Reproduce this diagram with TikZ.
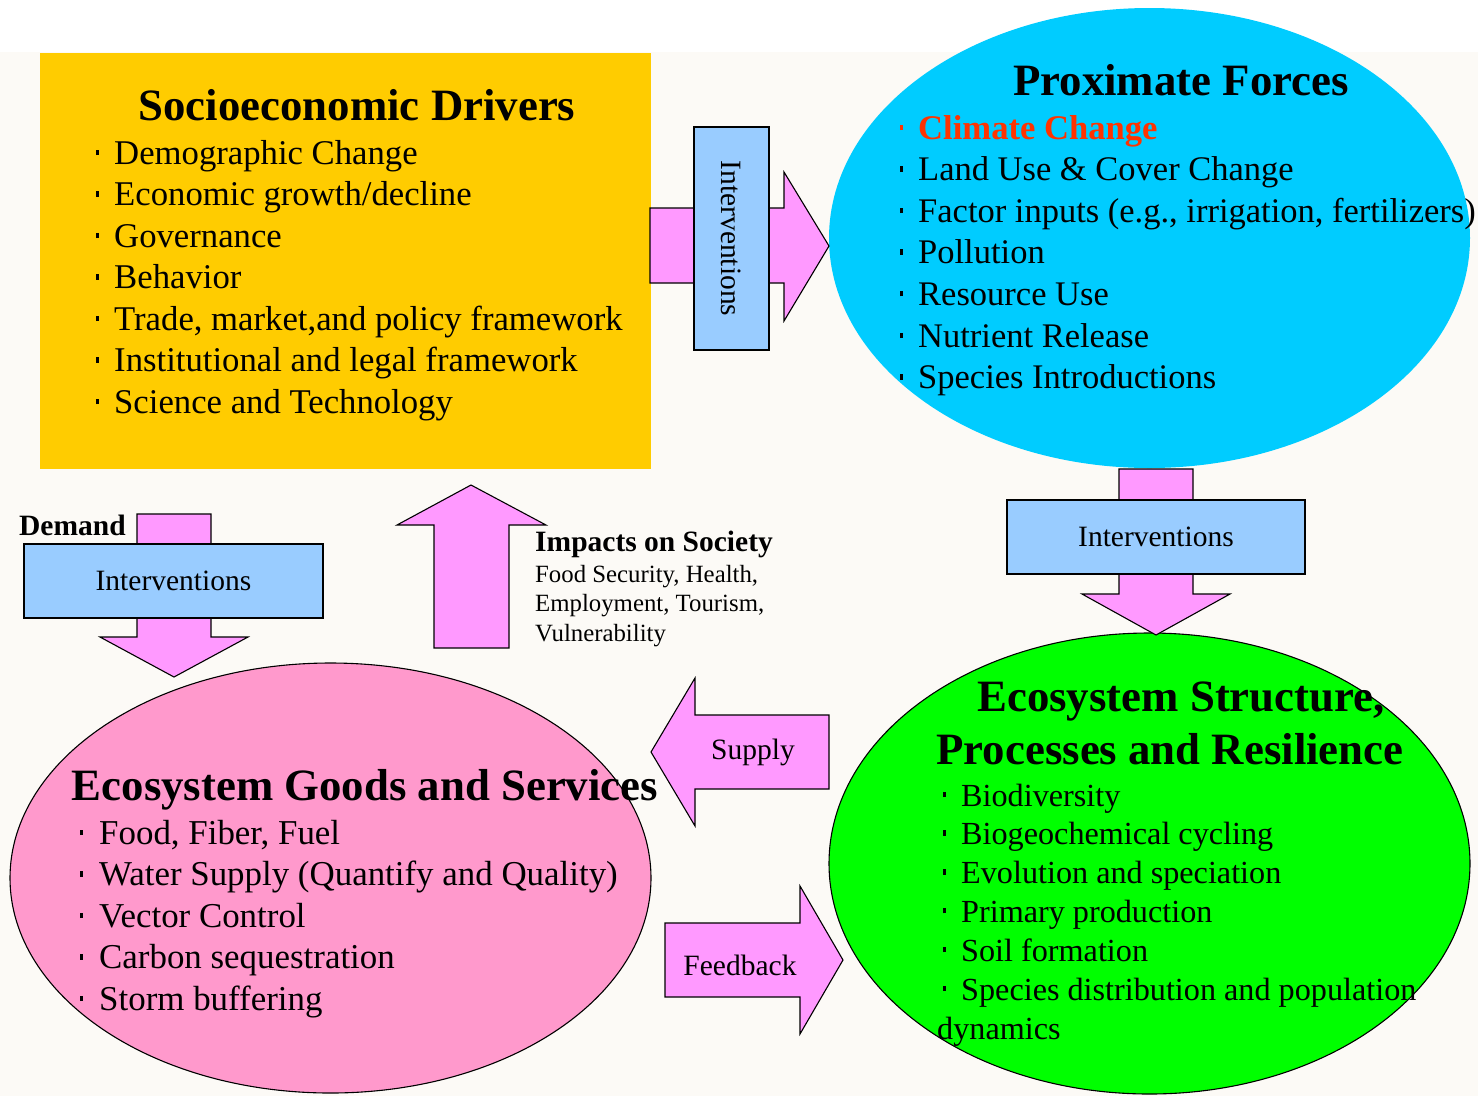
\documentclass[tikz,border=0pt]{standalone}
\usepackage{fontspec}
\setmainfont{Liberation Serif}
\usetikzlibrary{shapes.geometric}

\definecolor{bgcream}{HTML}{FCFAF6}
\definecolor{drvyellow}{HTML}{FFCC00}
\definecolor{forcecyan}{HTML}{00CCFF}
\definecolor{structgreen}{HTML}{00FF00}
\definecolor{goodspink}{HTML}{FF99CC}
\definecolor{arrowpink}{HTML}{FF99FF}
\definecolor{ivblue}{HTML}{99CCFF}
\definecolor{climred}{HTML}{FF3300}

\newcommand{\bul}{\makebox[18pt][l]{\raisebox{9pt}{\rule{2.4pt}{5.5pt}}}}

\tikzset{
  blockarrow/.style={fill=arrowpink, draw=black, line width=1.1pt, line join=miter},
  ivbox/.style={draw=black, fill=ivblue, line width=1.1pt, inner sep=0pt,
    font=\fontsize{29.5}{32}\selectfont},
  bigtitle/.style={font=\fontsize{44.8}{45}\selectfont\bfseries, inner sep=0pt, anchor=base},
  item/.style={font=\fontsize{#1}{#1}\selectfont, inner sep=0pt, anchor=base west},
  item/.default=34.7,
  smallbold/.style={font=\fontsize{29.5}{30}\selectfont\bfseries, inner sep=0pt, anchor=base west},
  smalltext/.style={font=\fontsize{24.8}{25}\selectfont, inner sep=0pt, anchor=base west},
  arrowtext/.style={font=\fontsize{29.5}{30}\selectfont, inner sep=0pt}
}

\begin{document}
\begin{tikzpicture}[x=1pt, y=-1pt]
% page and background
\fill[white] (0,0) rectangle (1478,1096);
\fill[bgcream] (0,52) rectangle (1478,1096);
\useasboundingbox (0,0) rectangle (1478,1096);

% the four blocks
\node[fill=drvyellow, minimum width=611pt, minimum height=416pt, inner sep=0pt] (drivers) at (345.5,261) {};
\node[ellipse, fill=forcecyan, minimum width=641pt, minimum height=460pt, inner sep=0pt] (forces) at (1149.5,238) {};
\node[ellipse, fill=structgreen, draw=black, line width=1.1pt, minimum width=641pt, minimum height=461pt, inner sep=0pt] (struct) at (1149.5,863.5) {};
\node[ellipse, fill=goodspink, draw=black, line width=1.1pt, minimum width=641pt, minimum height=430pt, inner sep=0pt] (goods) at (330.5,878) {};

% block arrows
\draw[blockarrow] (650,208) -- (784,208) -- (784,172) -- (829,246) -- (784,321) -- (784,283) -- (650,283) -- cycle;
\draw[blockarrow] (1119,469) -- (1193,469) -- (1193,594) -- (1230,594) -- (1156,635) -- (1082,594) -- (1119,594) -- cycle;
\draw[blockarrow] (137,514) -- (211,514) -- (211,637) -- (248,637) -- (174,677) -- (100,637) -- (137,637) -- cycle;
\draw[blockarrow] (434,648) -- (434,525) -- (397,525) -- (471,485) -- (546,525) -- (509,525) -- (509,648) -- cycle;
\draw[blockarrow] (829,715) -- (695,715) -- (695,678) -- (651,752) -- (695,826) -- (695,789) -- (829,789) -- cycle;
\draw[blockarrow] (665,923) -- (800,923) -- (800,886) -- (843,960) -- (800,1034) -- (800,997) -- (665,997) -- cycle;

% interventions
\node[ivbox, rotate=-90, minimum width=223pt, minimum height=75pt] (ivtop) at (731.5,238.5) {Interventions};
\node[ivbox, minimum width=298pt, minimum height=74pt] (ivright) at (1156,537) {Interventions};
\node[ivbox, minimum width=299pt, minimum height=74pt] (ivleft) at (173.5,581) {Interventions};

% titles
\node[bigtitle] (drvtitle) at (357,120) {Socioeconomic Drivers};
\node[bigtitle] (forcetitle) at (1181,95) {Proximate Forces};
\node[bigtitle] (structtitle) at (1181,711) {Ecosystem Structure,};
\node[bigtitle] (structtitleb) at (1170,764) {Processes and Resilience};
\node[bigtitle] (goodstitle) at (365,800) {Ecosystem Goods and Services};

% lists
\foreach \t [count=\i] in {Demographic Change, Economic growth/decline, Governance, Behavior,
    {Trade, market,and policy framework}, Institutional and legal framework, Science and Technology}
  \node[item] (drv\i) at (96,{164+41.5*(\i-1)}) {\bul\t};

\node[item, text=climred, font=\fontsize{34.6}{35}\selectfont\bfseries] (force1) at (900,139) {\bul Climate Change};
\foreach \t [count=\i from 2] in {Land Use \& Cover Change, {Factor inputs (e.g., irrigation, fertilizers)},
    Pollution, Resource Use, Nutrient Release, Species Introductions}
  \node[item=34.5] (force\i) at (900,{139+41.6*(\i-1)}) {\bul\t};

\foreach \t [count=\i] in {Biodiversity, Biogeochemical cycling, Evolution and speciation,
    Primary production, Soil formation, Species distribution and population}
  \node[item=32.2] (struct\i) at (943,{806+38.8*(\i-1)}) {\bul\t};
\node[item=32.2] (struct7) at (937,1039) {dynamics};

\foreach \t [count=\i] in {{Food, Fiber, Fuel}, Water Supply (Quantify and Quality), Vector Control,
    Carbon sequestration, Storm buffering}
  \node[item=34.9] (goods\i) at (80,{844+41.5*(\i-1)}) {\makebox[19pt][l]{\raisebox{9pt}{\rule{2.4pt}{5.5pt}}}\t};

% side labels
\node[smallbold] (demand) at (19,535) {Demand};
\node[smallbold] (impacts) at (535,551) {Impacts on Society};
\foreach \t [count=\i] in {{Food Security, Health,}, {Employment, Tourism,}, Vulnerability}
  \node[smalltext] (impact\i) at (535,{582+29.5*(\i-1)}) {\t};

\node[arrowtext] (supply) at (753,752) {Supply};
\node[arrowtext] (feedback) at (740,965) {Feedback};
\end{tikzpicture}
\end{document}
